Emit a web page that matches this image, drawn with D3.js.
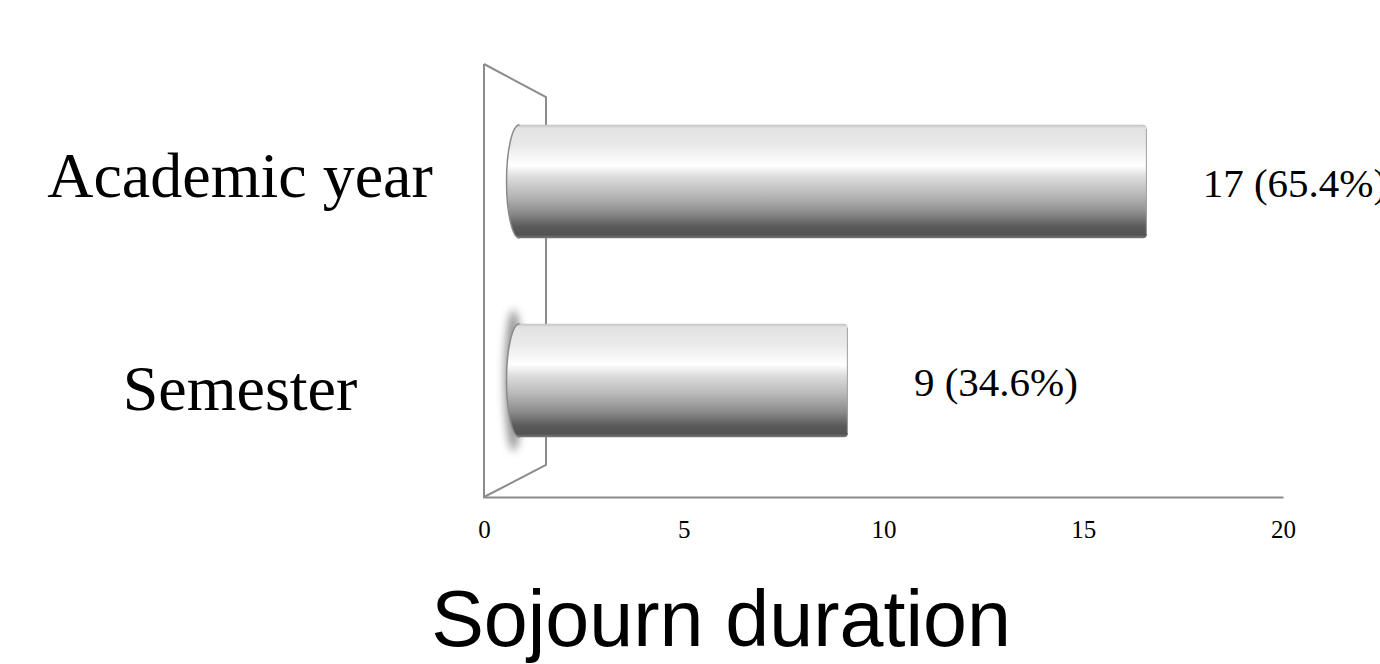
<!DOCTYPE html>
<html>
<head>
<meta charset="utf-8">
<script src="https://cdn.jsdelivr.net/npm/d3@7"></script>
<style>
  html, body { margin: 0; padding: 0; background: #fff; }
  svg { display: block; }
</style>
</head>
<body>
<div id="chart"></div>
<script>
// Sojourn duration - 3D style horizontal bar chart

const categories = ['Academic year', 'Semester'];
const counts = [17, 9];
const percents = ['65.4%', '34.6%'];
const xTicks = [0, 5, 10, 15, 20];
const glowCategory = 'Semester';

const width = 1380, height = 664;

const svg = d3.select('#chart').append('svg')
    .attr('width', width)
    .attr('height', height);

// Scales: floor axis and the (shifted) front plane where the bars sit
const x = d3.scaleLinear().domain([0, 20]).range([484, 1283]);
const xBar = d3.scaleLinear().domain([0, 20]).range([511.5, 1259]);
const y = d3.scaleBand().domain(categories).range([82, 480]);
const labelY = d3.scalePoint().domain(categories).range([197, 410]);
const barH = y.bandwidth() * 0.57;

const data = categories.map((c, i) => ({ cat: c, value: counts[i], pct: percents[i] }));

// Defs: bar gradient + blur for the glow
const defs = svg.append('defs');
const grad = defs.append('linearGradient')
    .attr('id', 'barGrad')
    .attr('x1', 0).attr('y1', 0).attr('x2', 0).attr('y2', 1);
[
    [0, '#c2c2c2'], [0.03, '#e2e2e2'], [0.18, '#eaeaea'], [0.36, '#ffffff'],
    [0.46, '#dcdcdc'], [0.62, '#b8b8b8'], [0.78, '#8a8a8a'], [0.9, '#5a5a5a'],
    [0.97, '#525252'], [1, '#7a7a7a']
].forEach(s => grad.append('stop').attr('offset', s[0]).attr('stop-color', s[1]));

defs.append('filter').attr('id', 'blur')
    .attr('x', '-200%').attr('y', '-50%').attr('width', '500%').attr('height', '200%')
    .append('feGaussianBlur').attr('stdDeviation', 4);

// Side wall (3D frame) and floor line
const depthX = 62, depthY = 32;
const wallTop = 64, wallBottom = 497;
svg.append('path')
    .attr('d', d3.line()([
        [x(0), wallTop],
        [x(0) + depthX, wallTop + depthY + 1],
        [x(0) + depthX, wallBottom - depthY],
        [x(0), wallBottom],
        [x(0), wallTop]
    ]))
    .attr('fill', 'none')
    .attr('stroke', '#8c8c8c')
    .attr('stroke-width', 2);

// X axis on the floor
const xAxis = d3.axisBottom(x)
    .tickValues(xTicks)
    .tickSize(0)
    .tickSizeOuter(0)
    .tickPadding(23);

const axisG = svg.append('g')
    .attr('transform', `translate(0,${wallBottom})`)
    .call(xAxis);
axisG.select('.domain').attr('stroke', '#8c8c8c').attr('stroke-width', 2);
axisG.selectAll('text')
    .attr('fill', '#000')
    .style('font-family', '"Liberation Serif", "Times New Roman", serif')
    .style('font-size', '25px');

// Bars
const capRx = 13;
const barsG = svg.append('g');

data.forEach(d => {
    const yc = y(d.cat) + y.bandwidth() / 2;
    const top = yc - barH / 2, bottom = yc + barH / 2;
    const x0 = xBar(0) + 8;
    const x1 = xBar(d.value);
    const r = 4;

    if (d.cat === glowCategory) {
        barsG.append('ellipse')
            .attr('cx', x0 - capRx + 7)
            .attr('cy', yc)
            .attr('rx', 9)
            .attr('ry', barH / 2 + 14)
            .attr('fill', '#808080')
            .attr('opacity', 0.85)
            .attr('filter', 'url(#blur)');
    }

    barsG.append('path')
        .attr('d', `M${x0},${top} L${x1 - r},${top} Q${x1},${top} ${x1},${top + r} ` +
                   `L${x1},${bottom - r} Q${x1},${bottom} ${x1 - r},${bottom} ` +
                   `L${x0},${bottom} A${capRx},${barH / 2} 0 0 1 ${x0},${top} Z`)
        .attr('fill', 'url(#barGrad)');

    // curved left cap edge
    barsG.append('path')
        .attr('d', `M${x0},${bottom} A${capRx},${barH / 2} 0 0 1 ${x0},${top}`)
        .attr('fill', 'none')
        .attr('stroke', '#8a8a8a')
        .attr('stroke-width', 1.5);

    // right end edge
    barsG.append('line')
        .attr('x1', x1 - 0.5).attr('x2', x1 - 0.5)
        .attr('y1', top + r).attr('y2', bottom - r)
        .attr('stroke', '#a0a0a0')
        .attr('stroke-width', 1);

    // value label
    svg.append('text')
        .attr('x', x1 + 148)
        .attr('y', yc + 15)
        .attr('text-anchor', 'middle')
        .style('font-family', '"Liberation Serif", "Times New Roman", serif')
        .style('font-size', '41px')
        .text(`${d.value} (${d.pct})`);
});

// Category labels
svg.selectAll('.cat-label')
    .data(categories)
    .enter().append('text')
    .attr('class', 'cat-label')
    .attr('x', 240)
    .attr('y', d => labelY(d))
    .attr('text-anchor', 'middle')
    .style('font-family', '"Liberation Serif", "Times New Roman", serif')
    .style('font-size', '64px')
    .text(d => d);

// Title
svg.append('text')
    .attr('x', 721)
    .attr('y', 646)
    .attr('text-anchor', 'middle')
    .style('font-family', '"Liberation Sans", Arial, sans-serif')
    .style('font-size', '79px')
    .text('Sojourn duration');
</script>
</body>
</html>
